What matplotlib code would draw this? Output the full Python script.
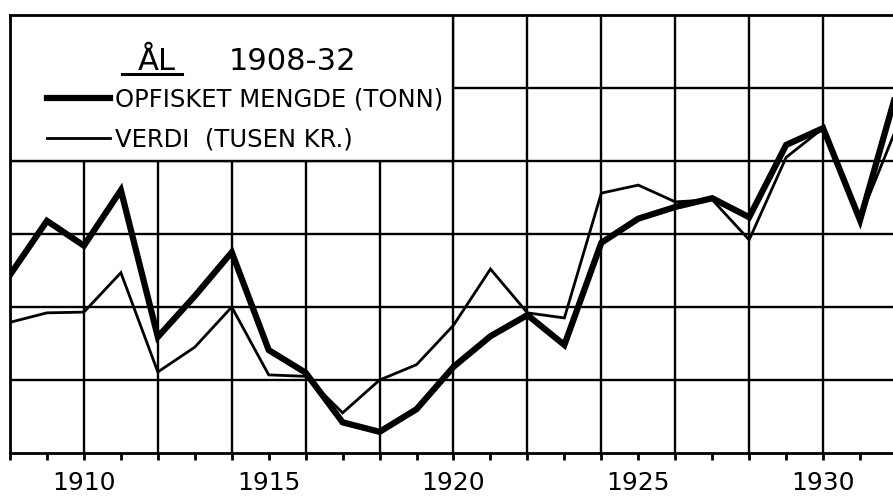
import matplotlib
matplotlib.use("Agg")
import matplotlib.pyplot as plt
from matplotlib.patches import Rectangle
from matplotlib.lines import Line2D

# aar 1908-1932, verdier i rutenett-enheter (ingen y-skala paa originalen)
years = list(range(1908, 1933))
mengde = [2.44, 3.18, 2.84, 3.60, 1.59, 2.15, 2.75, 1.41, 1.10, 0.42, 0.29, 0.60, 1.18,
          1.60, 1.89, 1.48, 2.88, 3.21, 3.37, 3.49, 3.23, 4.22, 4.45, 3.19, 4.97]
verdi = [1.79, 1.92, 1.93, 2.47, 1.11, 1.45, 2.00, 1.07, 1.05, 0.55, 1.00, 1.21, 1.75,
         2.52, 1.92, 1.85, 3.56, 3.67, 3.44, 3.47, 2.92, 4.05, 4.45, 3.22, 4.47]
label_years = [1910, 1915, 1920, 1925, 1930]

plt.rcParams["font.family"] = ["DejaVu Sans"]

fig = plt.figure(figsize=(8.93, 4.97), dpi=100)
ax = fig.add_axes([10 / 893, 44 / 497, 887 / 893, 438 / 497])
ax.set_xlim(1908, 1932)
ax.set_ylim(0, 6)

# rutenett
for x in range(1910, 1932, 2):
    ax.axvline(x, color="black", lw=1.7, zorder=1)
for y in range(1, 6):
    ax.axhline(y, color="black", lw=1.7, zorder=1)

# hvit rute for tegnforklaring
ax.add_patch(Rectangle((1908, 4), 12, 2, facecolor="white", edgecolor="black",
                       lw=1.7, zorder=2))

ax.plot(years, verdi, color="black", lw=2.0, zorder=3, solid_joinstyle="miter")
ax.plot(years, mengde, color="black", lw=4.5, zorder=4, solid_joinstyle="miter")

for side in ["left", "top", "bottom"]:
    ax.spines[side].set_linewidth(2.0)
ax.spines["right"].set_visible(False)

ax.set_yticks([])
ax.set_xticks(years, minor=True)
ax.set_xticks(label_years)
ax.set_xticklabels([str(y) for y in label_years], fontsize=18)
ax.tick_params(axis="x", which="both", direction="out", length=5, width=2, pad=8)

# tittel og tegnforklaring
ax.text(0.165, 0.874, "ÅL", transform=ax.transAxes, fontsize=22, ha="center",
        va="baseline", zorder=5)
ax.plot([0.126, 0.194], [0.866, 0.866], transform=ax.transAxes, color="black",
        lw=2.2, zorder=5)
ax.text(0.246, 0.874, "1908-32", transform=ax.transAxes, fontsize=22,
        va="baseline", zorder=5)

handles = [Line2D([], [], color="black", lw=4.5), Line2D([], [], color="black", lw=2.0)]
leg = ax.legend(handles, ["OPFISKET MENGDE (TONN)", "VERDI  (TUSEN KR.)"],
                loc="upper left", bbox_to_anchor=(0.042, 0.835), frameon=False,
                fontsize=17.5, handlelength=2.6, handletextpad=0.2,
                labelspacing=0.68, borderpad=0, borderaxespad=0)
leg.set_zorder(5)

plt.savefig("out.png", dpi=100)
